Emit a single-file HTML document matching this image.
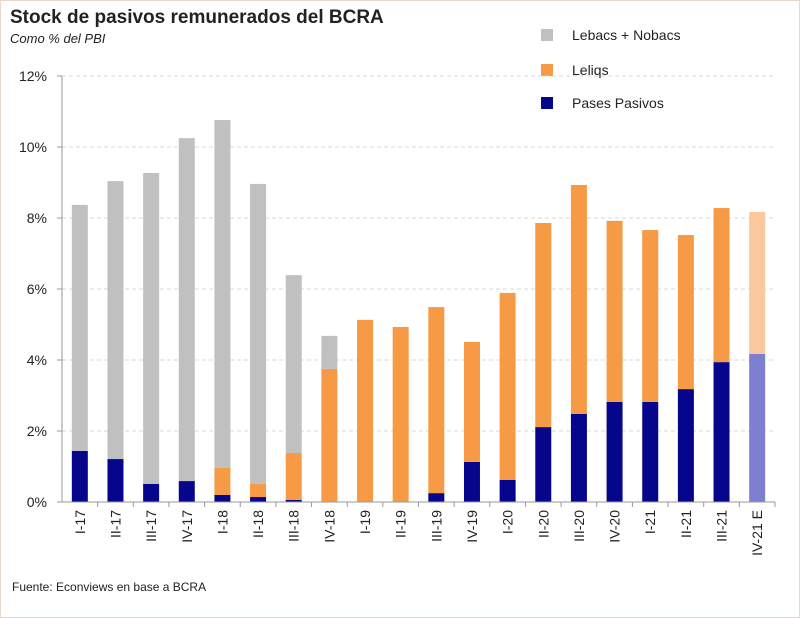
<!DOCTYPE html>
<html><head><meta charset="utf-8"><style>
body{margin:0;background:#fff;}
svg{display:block;font-family:"Liberation Sans",sans-serif;}
</style></head><body>
<svg id="chart" width="800" height="618">
<rect x="0.5" y="0.5" width="799" height="617" fill="#fff" stroke="#e8d8cc"/>
<text x="10" y="23" font-size="19" font-weight="bold" fill="#222">Stock de pasivos remunerados del BCRA</text>
<text x="10" y="43" font-size="13" font-style="italic" fill="#222">Como % del PBI</text>
<text x="12" y="591" font-size="12" fill="#222">Fuente: Econviews en base a BCRA</text>
<g id="legend">
<rect x="541" y="29" width="12" height="12" fill="#c0c0c0"/>
<text x="572" y="40" font-size="14" fill="#222">Lebacs + Nobacs</text>
<rect x="541" y="64" width="12" height="12" fill="#f79a45"/>
<text x="572" y="75" font-size="14" fill="#222">Leliqs</text>
<rect x="541" y="97" width="12" height="12" fill="#06068c"/>
<text x="572" y="108" font-size="14" fill="#222">Pases Pasivos</text>
</g>
<g id="grid"></g><g id="bars"></g><g id="axes"></g>
</svg>
<script>
const categories=["I-17","II-17","III-17","IV-17","I-18","II-18","III-18","IV-18","I-19","II-19","III-19","IV-19","I-20","II-20","III-20","IV-20","I-21","II-21","III-21","IV-21 E"];
const pases=[1.44,1.21,0.51,0.59,0.2,0.14,0.06,0,0,0,0.25,1.13,0.62,2.11,2.48,2.82,2.82,3.18,3.94,4.17];
const leliqs=[0,0,0,0,0.76,0.37,1.32,3.75,5.13,4.93,5.24,3.38,5.27,5.75,6.45,5.1,4.84,4.34,4.34,4.0];
const lebacs=[6.93,7.83,8.76,9.66,9.8,8.45,5.01,0.93,0,0,0,0,0,0,0,0,0,0,0,0];
const yTicks=[0,2,4,6,8,10,12];
const yTickLabels=["0%","2%","4%","6%","8%","10%","12%"];
const estimated=[false,false,false,false,false,false,false,false,false,false,false,false,false,false,false,false,false,false,false,true];

const NS="http://www.w3.org/2000/svg";
const x0=62,x1=775,yBase=502,yTop=76;
const y=v=>yBase-(v/12)*(yBase-yTop);
const step=(x1-x0)/categories.length;
const xc=i=>x0+step*(i+0.5);
const bw=16;
function mk(tag,attrs,parent){const e=document.createElementNS(NS,tag);for(const k in attrs)e.setAttribute(k,attrs[k]);parent.appendChild(e);return e;}
const grid=document.getElementById('grid'),bars=document.getElementById('bars'),axes=document.getElementById('axes');
yTicks.forEach((t,i)=>{
  if(t>0){
    const l=mk('line',{x1:x0,x2:x1,y1:y(t),y2:y(t),stroke:'#d8d8d8','stroke-dasharray':'4,3'},grid);
    
    
  }
  const tk=mk('line',{x1:x0-5,x2:x0,y1:y(t),y2:y(t),stroke:'#999'},axes);
  
  
  const tx=mk('text',{x:47,y:y(t)+5,'font-size':14,'text-anchor':'end',fill:'#222'},axes);
  tx.textContent=yTickLabels[i];
  
  
});
const ax=mk('line',{x1:x0,x2:x1,y1:yBase,y2:yBase,stroke:'#999'},axes);


const ay=mk('line',{x1:x0,x2:x0,y1:yTop,y2:yBase,stroke:'#999'},axes);


categories.forEach((c,i)=>{
  const est=estimated[i];
  const segs=[[pases[i],est?'#7f7fd2':'#06068c','bar-pases'],[leliqs[i],est?'#fac89c':'#f79a45','bar-leliqs'],[lebacs[i],'#c0c0c0','bar-lebacs']];
  let cum=0;
  segs.forEach(s=>{
    if(s[0]>0){
      const r=mk('rect',{x:xc(i)-bw/2,y:y(cum+s[0]),width:bw,height:y(cum)-y(cum+s[0]),fill:s[1]},bars);
      
      
    }
    cum+=s[0];
  });
  const tk=mk('line',{x1:x0+step*(i+1),x2:x0+step*(i+1),y1:yBase,y2:yBase+5,stroke:'#999'},axes);
  
  
  const t=mk('text',{x:0,y:0,'font-size':14,'text-anchor':'end',fill:'#222',transform:`translate(${xc(i)+5},${yBase+8}) rotate(-90)`},axes);
  t.textContent=c;
  
  
});
</script>
</body></html>
